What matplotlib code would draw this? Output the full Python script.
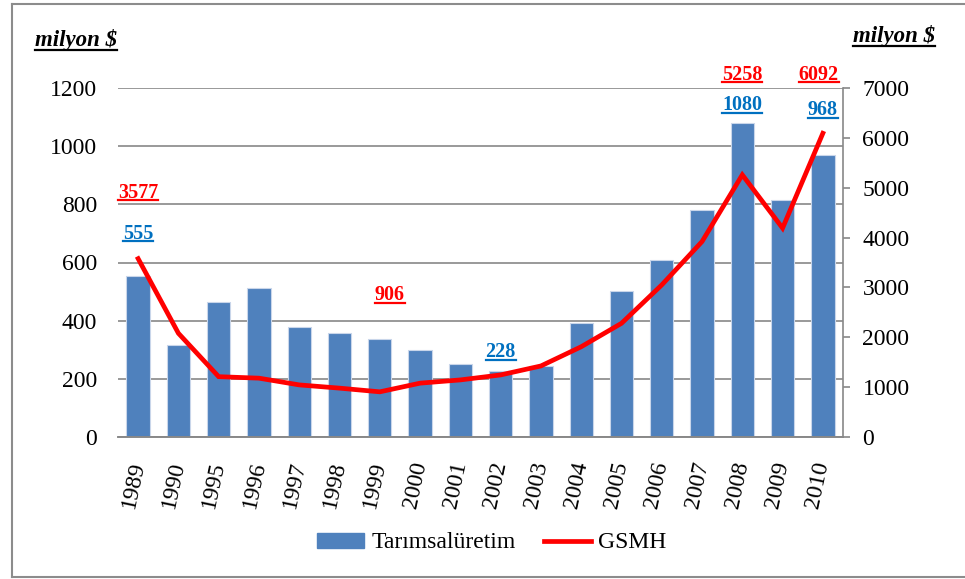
import matplotlib
matplotlib.use("Agg")
import matplotlib.pyplot as plt
from matplotlib.lines import Line2D
from matplotlib.patches import Patch
import numpy as np

# data
years = ['1989', '1990', '1995', '1996', '1997', '1998', '1999', '2000', '2001',
         '2002', '2003', '2004', '2005', '2006', '2007', '2008', '2009', '2010']
tarim = [555, 318, 465, 513, 377, 359, 336, 300, 252,
         228, 244, 393, 502, 609, 781, 1080, 815, 968]
gsmh = [3577, 2080, 1210, 1180, 1045, 980, 906, 1080, 1145,
        1245, 1425, 1810, 2280, 3050, 3920, 5258, 4190, 6092]

# value labels: (text, x position in categories, baseline on left axis, colour)
labels = [
    ('3577', 0.0, 822, 'red'),
    ('555', 0.0, 682, '#0070c0'),
    ('906', 6.25, 471, 'red'),
    ('228', 9.0, 275, '#0070c0'),
    ('5258', 15.0, 1228, 'red'),
    ('1080', 15.0, 1124, '#0070c0'),
    ('6092', 16.9, 1228, 'red'),
    ('968', 17.0, 1107, '#0070c0'),
]

plt.rcParams['font.family'] = 'Liberation Serif'

W, H = 965, 579
fig = plt.figure(figsize=(W / 100, H / 100), dpi=100)

# outer frame (right edge is cut off in the original)
frame = dict(transform=fig.transFigure, color='#8c8c8c', linewidth=1.5)
fig.add_artist(Line2D([12 / W, 1.0], [1 - 4 / H, 1 - 4 / H], **frame))
fig.add_artist(Line2D([12 / W, 12 / W], [1 - 4 / H, 1 - 577 / H], **frame))
fig.add_artist(Line2D([12 / W, 1.0], [1 - 577 / H, 1 - 577 / H], **frame))

x0, x1, ytop, ybot = 118, 843, 88, 437
ax = fig.add_axes([x0 / W, 1 - ybot / H, (x1 - x0) / W, (ybot - ytop) / H])
ax2 = ax.twinx()

x = np.arange(len(years))
ax.bar(x, tarim, width=0.58, color='#4f81bd', edgecolor='#c9d6ea', linewidth=0.8, zorder=2)
ax2.plot(x, gsmh, color='#ff0000', linewidth=3.4, solid_joinstyle='miter', zorder=3)

ax.set_xlim(-0.5, len(years) - 0.5)
ax.set_ylim(0, 1200)
ax.set_yticks(range(0, 1201, 200))
ax2.set_ylim(0, 7000)
ax2.set_yticks(range(0, 7001, 1000))

ax.grid(axis='y', color='#888888', linewidth=1.2, zorder=0)
ax.set_axisbelow(True)

for a in (ax, ax2):
    a.spines['top'].set_visible(False)
    a.spines['left'].set_visible(False)
    a.spines['right'].set_visible(False)
    a.spines['bottom'].set_color('#888888')
    a.spines['bottom'].set_linewidth(1.2)
ax2.spines['right'].set_visible(True)
ax2.spines['right'].set_color('#888888')
ax2.spines['right'].set_linewidth(1.2)

ax.tick_params(axis='y', length=0, pad=15, labelsize=17)
ax2.tick_params(axis='y', length=5, width=1.2, color='#888888', direction='out',
                pad=9, labelsize=17)
ax.set_xticks(x)
ax.set_xticklabels(years, rotation=78, ha='right', va='center',
                   rotation_mode='anchor', fontsize=17)
ax.tick_params(axis='x', length=0, pad=18)

# axis titles
t_left = fig.text(35 / W, 1 - 46 / H, 'milyon $', fontsize=16.5, fontweight='bold',
                  fontstyle='italic', ha='left', va='baseline')
t_right = fig.text(853 / W, 1 - 42 / H, 'milyon $', fontsize=16.5, fontweight='bold',
                   fontstyle='italic', ha='left', va='baseline')

texts = []
for txt, xp, yp, col in labels:
    t = ax.text(xp, yp, txt, color=col, fontsize=14.5, fontweight='bold',
                ha='center', va='baseline', clip_on=False, zorder=5)
    texts.append((t, col))

# legend
handles = [Patch(facecolor='#4f81bd', edgecolor='#4f81bd'),
           Line2D([0], [0], color='#ff0000', linewidth=3.4)]
fig.legend(handles, ['Tarımsalüretim', 'GSMH'], loc='center',
           bbox_to_anchor=(492 / W, 1 - 543 / H), ncol=2, frameon=False,
           fontsize=17, handlelength=2.0, handleheight=0.6,
           handletextpad=0.3, columnspacing=1.2)

# underline texts
fig.canvas.draw()
renderer = fig.canvas.get_renderer()
inv = fig.transFigure.inverted()


def underline(t, color, drop=2.5, lw=1.6):
    bb = t.get_window_extent(renderer)
    bx0, by = inv.transform((bb.x0, 0))
    bx1, _ = inv.transform((bb.x1, 0))
    base = t.get_transform().transform(t.get_position())[1]
    yy = inv.transform((0, base - drop))[1]
    fig.add_artist(Line2D([bx0, bx1], [yy, yy], color=color, linewidth=lw,
                          transform=fig.transFigure))


for t, col in texts:
    underline(t, col)
underline(t_left, 'black', drop=4)
underline(t_right, 'black', drop=4)

fig.savefig('out.png', dpi=100)
